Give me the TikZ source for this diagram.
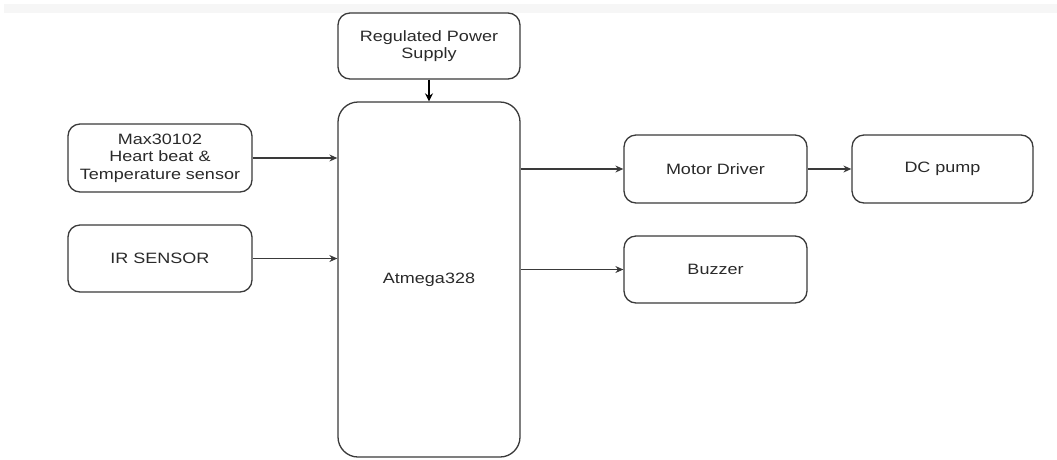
\documentclass[tikz,border=0pt]{standalone}
\usepackage{fontspec}
\setmainfont{Liberation Sans}[FakeStretch=1.2]
\usetikzlibrary{arrows.meta}
\definecolor{edge}{HTML}{3A3A3A}
\definecolor{txt}{HTML}{2A2A2A}
\begin{document}
\begin{tikzpicture}[x=1pt,y=-1pt,
  blk/.style={draw=edge,line width=1.3pt,rounded corners=12pt,fill=white,
    align=center,text=txt,inner sep=2pt,
    font=\fontsize{15}{17.5}\selectfont},
  arr/.style={draw=edge,line width=1.1pt,-{Stealth[length=8pt,width=7pt]}},
  parr/.style={draw=black,line width=2pt,-{Stealth[length=8pt,width=8pt]}}]
\useasboundingbox (0,0) rectangle (1057,459);
\fill[gray!7] (4,4) rectangle (1057,13);
\node[blk,minimum width=182pt,minimum height=66pt] (pow) at (429,46) {Regulated Power\\Supply};
\node[blk,minimum width=182pt,minimum height=355pt,rounded corners=20pt] (atm) at (429,279.5) {Atmega328};
\node[blk,minimum width=184pt,minimum height=68pt] (max) at (160,158) {Max30102\\Heart beat \&\\Temperature sensor};
\node[blk,minimum width=184pt,minimum height=67pt] (ir) at (160,258.5) {IR SENSOR};
\node[blk,minimum width=183pt,minimum height=68pt] (mot) at (715.5,169) {Motor Driver};
\node[blk,minimum width=181pt,minimum height=68pt] (dc) at (942.5,169) {DC pump};
\node[blk,minimum width=183pt,minimum height=67pt] (buz) at (715.5,269.5) {Buzzer};
\draw[parr] (pow.south) -- (atm.north);
\draw[arr] (max.east) -- (max.east -| atm.west);
\draw[arr] (ir.east) -- (ir.east -| atm.west);
\draw[arr] (atm.east |- mot.west) -- (mot.west);
\draw[arr] (atm.east |- buz.west) -- (buz.west);
\draw[arr] (mot.east) -- (dc.west);
\end{tikzpicture}
\end{document}
